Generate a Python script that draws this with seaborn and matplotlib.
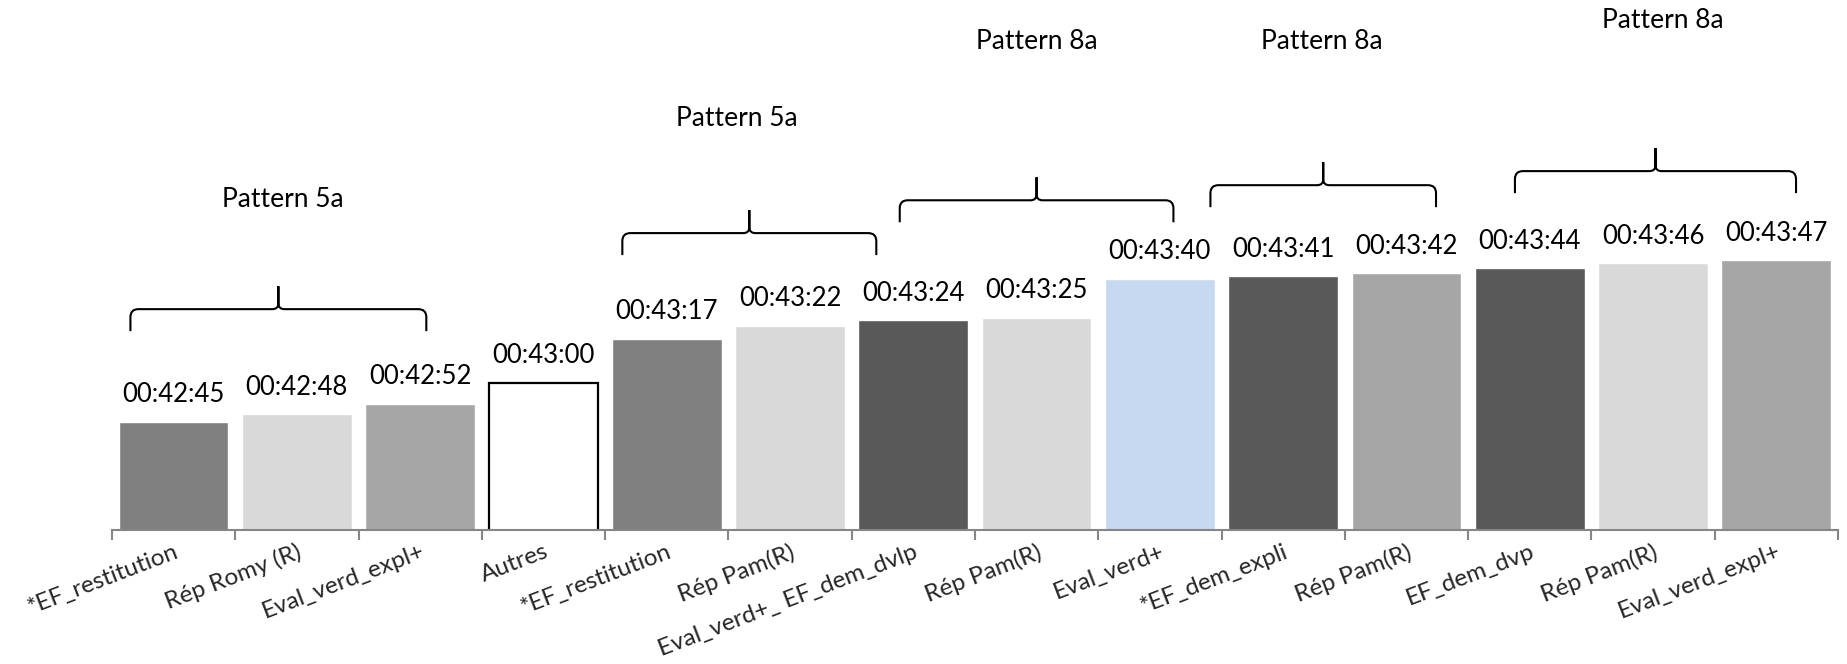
import numpy as np
import pandas as pd
import seaborn as sns
import matplotlib.pyplot as plt
from matplotlib.path import Path
from matplotlib.patches import PathPatch
from matplotlib.transforms import IdentityTransform

# ---- data ----
categories = ["*EF_restitution", "Rép Romy (R)", "Eval_verd_expl+", "Autres",
              "*EF_restitution", "Rép Pam(R)", "Eval_verd+_ EF_dem_dvlp", "Rép Pam(R)",
              "Eval_verd+", "*EF_dem_expli", "Rép Pam(R)", "EF_dem_dvp",
              "Rép Pam(R)", "Eval_verd_expl+"]
times = ["00:42:45", "00:42:48", "00:42:52", "00:43:00",
         "00:43:17", "00:43:22", "00:43:24", "00:43:25",
         "00:43:40", "00:43:41", "00:43:42", "00:43:44",
         "00:43:46", "00:43:47"]
bar_colors = ["#808080", "#d9d9d9", "#a6a6a6", "#ffffff",
              "#808080", "#d9d9d9", "#595959", "#d9d9d9",
              "#c6d9f1", "#595959", "#a6a6a6", "#595959",
              "#d9d9d9", "#a6a6a6"]
pattern_labels = ["Pattern 5a", "Pattern 5a", "Pattern 8a", "Pattern 8a", "Pattern 8a"]

# ---- layout (annotation geometry) ----
brace_spans = [(-0.35, 2.05), (3.64, 5.70), (5.89, 8.11), (8.41, 10.24), (10.88, 13.16)]
brace_y = [2608.3, 2637.5, 2650.1, 2655.9, 2661.3]
label_pos = [(0.887, 2650.5), (4.57, 2681.6), (7.00, 2711.1), (9.31, 2711.1), (12.08, 2719.2)]


def to_sec(t):
    h, m, s = (int(v) for v in t.split(":"))
    return h * 3600 + m * 60 + s


seconds = [to_sec(t) for t in times]
df = pd.DataFrame({"idx": np.arange(len(categories)), "sec": seconds})

sns.set_theme(style="white")
plt.rcParams["font.family"] = ["Lato", "DejaVu Sans"]

fig = plt.figure(figsize=(18.47, 6.64), dpi=100)
ax = fig.add_axes([0.0606, 0.2018, 0.9345, 0.7982])

sns.barplot(data=df, x="idx", y="sec", hue="idx", palette=bar_colors,
            width=0.89, saturation=1, legend=False, ax=ax)

# Autres bar outline
ax.patches[3].set_edgecolor("black")
ax.patches[3].set_linewidth(1.6)

ax.set_xlim(-0.5, len(categories) - 0.5)
ax.set_ylim(2523.5, 2727)
ax.set_xlabel("")
ax.set_ylabel("")
ax.set_yticks([])
for sp in ["top", "right", "left"]:
    ax.spines[sp].set_visible(False)
ax.spines["bottom"].set_color("#868686")
ax.spines["bottom"].set_linewidth(1.5)

ax.set_xticks(np.arange(-0.5, len(categories), 1.0))
ax.set_xticklabels([])
ax.tick_params(axis="x", which="major", length=7, width=1.5, color="#868686",
               direction="out", bottom=True)
ax.set_xticks(np.arange(len(categories)), minor=True)
ax.set_xticklabels(categories, minor=True, rotation=21, ha="right", va="top",
                   rotation_mode="anchor", fontsize=17.5)
ax.tick_params(axis="x", which="minor", length=0, pad=8)

# value labels
for i, (s, t) in enumerate(zip(seconds, times)):
    ax.annotate(t, (i, s), xytext=(0, 14), textcoords="offset points",
                ha="center", va="baseline", fontsize=18.5, color="black")


def draw_brace(ax, x0, x1, y, end=22, peak=23, r=8, r2=6):
    (px0, py), = ax.transData.transform([(x0, y)])
    (px1, _), = ax.transData.transform([(x1, y)])
    xm = (px0 + px1) / 2
    verts = [
        (px0, py - end), (px0, py - r),
        (px0, py), (px0 + r, py),
        (xm - r2, py),
        (xm, py), (xm, py + r2),
        (xm, py + peak),
        (xm, py + r2),
        (xm, py), (xm + r2, py),
        (px1 - r, py),
        (px1, py), (px1, py - r),
        (px1, py - end),
    ]
    codes = [Path.MOVETO, Path.LINETO,
             Path.CURVE3, Path.CURVE3,
             Path.LINETO,
             Path.CURVE3, Path.CURVE3,
             Path.LINETO,
             Path.LINETO,
             Path.CURVE3, Path.CURVE3,
             Path.LINETO,
             Path.CURVE3, Path.CURVE3,
             Path.LINETO]
    patch = PathPatch(Path(verts, codes), transform=IdentityTransform(),
                      facecolor="none", edgecolor="black", lw=1.5, clip_on=False)
    fig.add_artist(patch)


for (x0, x1), y in zip(brace_spans, brace_y):
    draw_brace(ax, x0, x1, y)

for lab, (x, y) in zip(pattern_labels, label_pos):
    ax.text(x, y, lab, ha="center", va="center", fontsize=19, color="black",
            clip_on=False)

fig.savefig("out.png", dpi=100)
